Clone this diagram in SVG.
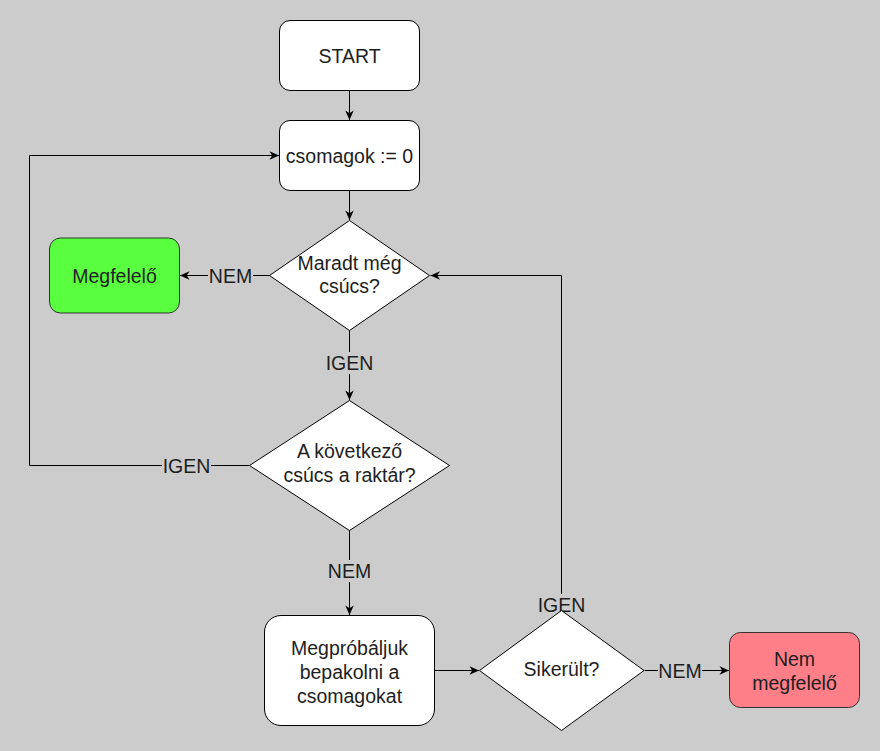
<svg xmlns="http://www.w3.org/2000/svg" width="880" height="751" viewBox="0 0 880 751">
<style>
text{font-family:"Liberation Sans",Arial,sans-serif;font-size:19.5px;fill:#1e1e1e;text-anchor:middle}
.box{fill:#ffffff;stroke:#000;stroke-width:1}
.dia{fill:#ffffff;stroke:#000;stroke-width:1}
.edge{fill:none;stroke:#000;stroke-width:1}
.lblbg{fill:#cccccc}
</style>
<defs>
<marker id="arr" markerWidth="11" markerHeight="10" refX="10" refY="5" orient="auto" markerUnits="userSpaceOnUse">
<path d="M0.5,0.8 L10,5 L0.5,9.2 L3.2,5 Z" fill="#000"/>
</marker>
</defs>
<rect x="0" y="0" width="880" height="751" fill="#cccccc"/>

<g id="connectors">
<path class="edge" d="M349.5,90.5 V120" marker-end="url(#arr)"/>
<path class="edge" d="M349.5,190.5 V220" marker-end="url(#arr)"/>
<path class="edge" d="M270,275.5 H180" marker-end="url(#arr)"/>
<path class="edge" d="M349.5,330.5 V400" marker-end="url(#arr)"/>
<path class="edge" d="M249.5,465.5 H29.5 V155.5 H279" marker-end="url(#arr)"/>
<path class="edge" d="M349.5,530.5 V615" marker-end="url(#arr)"/>
<path class="edge" d="M434.5,670.5 H479" marker-end="url(#arr)"/>
<path class="edge" d="M561.5,610.5 V275.5 H430.5" marker-end="url(#arr)"/>
<path class="edge" d="M644.5,670.5 H729" marker-end="url(#arr)"/>
<g id="edge-labels">
<rect class="lblbg" x="208" y="265" width="45" height="22"/>
<text x="230.5" y="283.3">NEM</text>
<rect class="lblbg" x="325" y="352" width="49" height="22"/>
<text x="349.5" y="370">IGEN</text>
<rect class="lblbg" x="162" y="455" width="49" height="22"/>
<text x="186.5" y="473.3">IGEN</text>
<rect class="lblbg" x="327" y="560" width="45" height="22"/>
<text x="349.5" y="577.5">NEM</text>
<rect class="lblbg" x="537" y="594" width="49" height="16"/>
<text x="561.5" y="611.7">IGEN</text>
<rect class="lblbg" x="658" y="660" width="44" height="22"/>
<text x="680" y="678">NEM</text>
</g>
</g>

<g id="start">
<rect class="box" x="279.5" y="20.5" width="140" height="70" rx="10.5"/>
<text x="349.5" y="62.5">START</text>
</g>
<g id="init">
<rect class="box" x="279.5" y="120.5" width="140" height="70" rx="10.5"/>
<text x="349.5" y="162.5">csomagok := 0</text>
</g>
<g id="remaining">
<polygon class="dia" points="349.5,220.5 429.5,275.5 349.5,330.5 269.5,275.5"/>
<text x="349.5" y="270">Maradt még</text>
<text x="349.5" y="293">csúcs?</text>
</g>
<g id="ok">
<rect x="49.5" y="238" width="130" height="75" rx="11" fill="#59ff3f" stroke="#333" stroke-width="1"/>
<text x="114.5" y="283">Megfelelő</text>
</g>
<g id="depot">
<polygon class="dia" points="349.5,400.5 449.5,465.5 349.5,530.5 249.5,465.5"/>
<text x="349.5" y="458.3">A következő</text>
<text x="349.5" y="481.8">csúcs a raktár?</text>
</g>
<g id="pack">
<rect class="box" x="264.5" y="615.5" width="170" height="110" rx="16.5"/>
<text x="349.5" y="655">Megpróbáljuk</text>
<text x="349.5" y="679">bepakolni a</text>
<text x="349.5" y="702.7">csomagokat</text>
</g>
<g id="success">
<polygon class="dia" points="561.5,610.5 644,670.5 561.5,730.5 479.5,670.5"/>
<text x="561.5" y="676">Sikerült?</text>
</g>
<g id="notok">
<rect x="729.5" y="632.5" width="130" height="75" rx="11" fill="#ff7f88" stroke="#333" stroke-width="1"/>
<text x="794.5" y="666">Nem</text>
<text x="794.5" y="689.5">megfelelő</text>
</g>
</svg>
